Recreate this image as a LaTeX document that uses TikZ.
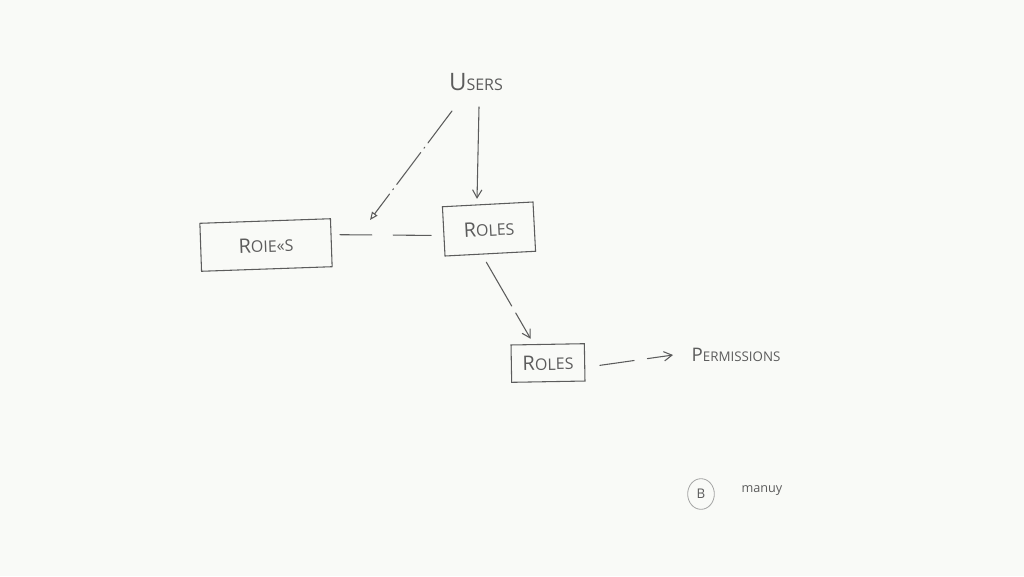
\documentclass[tikz,border=0pt]{standalone}
\usepackage{fontspec}
\setmainfont{Open Sans}
\usetikzlibrary{arrows.meta,shapes.geometric}
\definecolor{ink}{HTML}{5C5C5C}
\definecolor{paper}{HTML}{F9FAF7}
\newcommand{\hwtext}[4]{{\fontsize{#1}{#1}\selectfont #3}{\fontsize{#2}{#2}\selectfont #4}}
\begin{document}
\begin{tikzpicture}[x=0.75pt,y=-0.75pt,
  ink/.style={draw=ink,line width=0.8pt},
  lbl/.style={text=ink,inner sep=1pt},
  sketchbox/.style={ink,text=ink,minimum height=#1,inner sep=2pt},
  sketchbox/.default=36pt,
  conn/.style={ink,line cap=round},
  brk/.style={conn,dash pattern=on 24pt off 16pt on 40pt},
  barb/.style={-{Straight Barb[length=6pt,width=7pt]}},
  opentri/.style={-{Triangle[open,length=6pt,width=5pt]}}
]
\fill[paper] (0,0) rectangle (1024,576);
\useasboundingbox (0,0) rectangle (1024,576);

\node[lbl] (users) at (476,82) {\hwtext{18pt}{12pt}{U}{SERS}};

\node[sketchbox=36pt,minimum width=98pt,rotate=2] (left) at (266,245) {\hwtext{15pt}{12pt}{R}{OIE«S}};
\node[sketchbox=37pt,minimum width=68pt,rotate=3] (mid) at (489,229) {\hwtext{15pt}{12pt}{R}{OLES}};
\node[sketchbox=28pt,minimum width=55pt,rotate=1] (bot) at (548,363) {\hwtext{15pt}{12pt}{R}{OLES}};

\node[lbl,anchor=west] (perm) at (690,355) {\hwtext{14pt}{10pt}{P}{ERMISSIONS}};

\node[draw=ink!55,line width=0.6pt,ellipse,minimum width=20pt,minimum height=23pt,inner sep=0pt,text=ink] (bmark) at (701,494) {\fontsize{10pt}{10pt}\selectfont B};
\node[lbl,anchor=west] (many) at (740,491) {\fontsize{9.5pt}{9.5pt}\selectfont manuy};

\coordinate (tip) at (370,220);

% Users -> middle Roles (solid)
\draw[conn,barb] ([xshift=2.25pt,yshift=-11pt]users.south) -- ([xshift=-8pt,yshift=3.75pt]mid.north);
% Users -> left (dash-dot with open triangle)
\draw[conn,opentri,dash pattern=on 30pt off 4pt on 1pt off 4pt] ([xshift=-18pt,yshift=-14pt]users.south) -- (tip);
% left -- middle (dashed)
\draw[brk] ([xshift=6pt,yshift=6pt]left.east) -- ([xshift=-9pt,yshift=-3pt]mid.west);
% middle -> bottom Roles (dashed)
\draw[conn,barb,dash pattern=on 38pt off 6pt] ([xshift=-3pt,yshift=-6pt]mid.south) -- ([xshift=-12.75pt,yshift=3.75pt]bot.north);
% bottom Roles -> Permissions (dashed)
\draw[conn,barb,dash pattern=on 26pt off 10pt] ([xshift=11pt,yshift=-2.25pt]bot.east) -- ([xshift=-12.75pt]perm.west);
\end{tikzpicture}
\end{document}
